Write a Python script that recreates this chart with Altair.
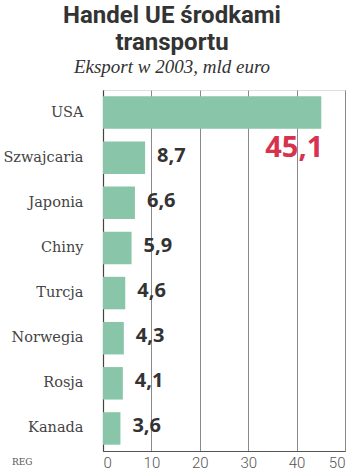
import altair as alt
import pandas as pd

countries = ["USA", "Szwajcaria", "Japonia", "Chiny", "Turcja", "Norwegia", "Rosja", "Kanada"]
values = [45.1, 8.7, 6.6, 5.9, 4.6, 4.3, 4.1, 3.6]
labels = ["45,1", "8,7", "6,6", "5,9", "4,6", "4,3", "4,1", "3,6"]
x_ticks = [0, 10, 20, 30, 40, 50]

df = pd.DataFrame({"kraj": countries, "wartosc": values, "etykieta": labels})
df["top"] = df["kraj"] == "USA"

y_enc = alt.Y("kraj:N", sort=countries, title=None,
              scale=alt.Scale(paddingInner=0.28, paddingOuter=0.14),
              axis=alt.Axis(labelFont="DejaVu Serif", labelFontSize=14.5, labelColor="#444",
                            labelPadding=20, ticks=False, domain=True, domainColor="#444",
                            domainWidth=1.2, grid=False))
x_enc = alt.X("wartosc:Q", title=None,
              scale=alt.Scale(domain=[0, 50], nice=False),
              axis=alt.Axis(values=x_ticks, labelFont="Roboto", labelFontWeight=300,
                            labelFontSize=15, labelColor="#555", labelPadding=4,
                            ticks=False, grid=True, gridColor="#8a8a8a", gridWidth=1,
                            domainColor="#555", domainWidth=1.2, labelFlush=True))

bars = alt.Chart(df).mark_bar(color="#88c5a9").encode(x=x_enc, y=y_enc)

small = alt.Chart(df).transform_filter("!datum.top").mark_text(
    align="left", baseline="middle", dx=12, dy=-2, font="Open Sans", fontWeight="bold",
    fontSize=20, color="#333"
).encode(x="wartosc:Q", y=alt.Y("kraj:N", sort=countries), text="etykieta:N")

big = alt.Chart(df).transform_filter("datum.top").mark_text(
    align="right", baseline="middle", dx=2, dy=35, font="Open Sans", fontWeight="bold",
    fontSize=29, color="#d6334f"
).encode(x="wartosc:Q", y=alt.Y("kraj:N", sort=countries), text="etykieta:N")

reg = alt.Chart(pd.DataFrame({"t": ["REG"]})).mark_text(
    align="left", baseline="middle", font="DejaVu Serif", fontSize=9, color="#555"
).encode(x=alt.value(-91), y=alt.value(372), text="t:N")

chart = alt.layer(bars, small, big, reg).properties(
    width=242, height=361,
    autosize=alt.AutoSizeParams(type="none"),
    padding={"left": 103, "top": 90, "right": 5, "bottom": 20},
    title=alt.TitleParams(
        text=["Handel UE środkami", "transportu"],
        subtitle="Eksport w 2003,  mld euro",
        anchor="middle", dx=-52, offset=13,
        font="Roboto", fontSize=24, fontWeight="bold", color="#333", lineHeight=27,
        subtitleFont="Liberation Serif", subtitleFontStyle="italic", subtitleFontSize=19,
        subtitleColor="#333", subtitlePadding=3,
    ),
).configure_view(stroke=None).configure(background="white")

chart.save("out.html", embed_options={"renderer": "svg", "actions": False})
